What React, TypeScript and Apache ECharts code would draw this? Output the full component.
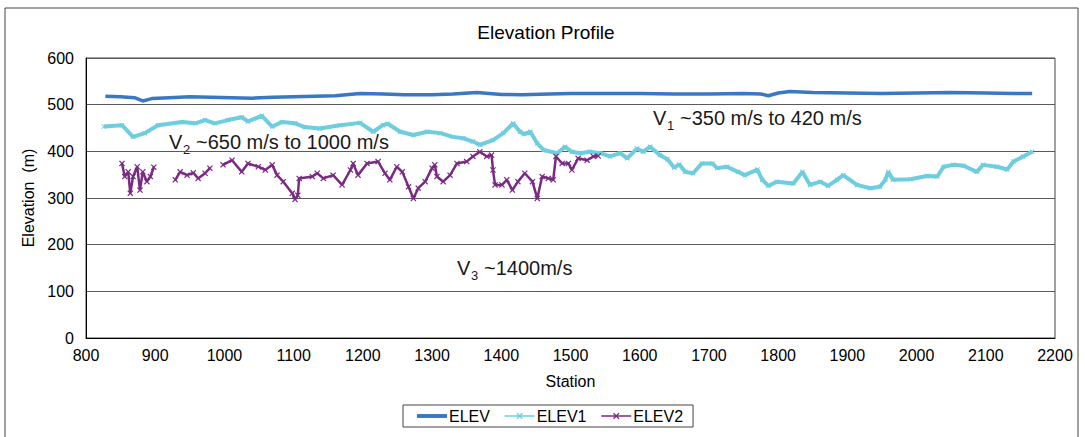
import React, { useEffect, useRef } from "react";
import * as echarts from "echarts";

const elevStations = [828, 850, 870, 882, 895, 920, 950, 980, 1010, 1040, 1070, 1100, 1130, 1160, 1196, 1230, 1260, 1300, 1330, 1365, 1400, 1430, 1470, 1500, 1550, 1600, 1650, 1700, 1750, 1775, 1786, 1800, 1817, 1850, 1900, 1950, 2000, 2050, 2100, 2140, 2167];
const elevValues = [518, 517, 515, 508, 513, 515, 517, 516, 515, 514, 516, 517, 518, 519, 524, 523, 521, 521, 523, 526, 522, 521, 523, 524, 524, 524, 523, 523, 524, 523, 519, 525, 528, 526, 525, 524, 525, 526, 525, 524, 524];

const elev1Stations = [826, 852, 868, 885, 904, 939, 958, 972, 986, 1005, 1025, 1034, 1054, 1069, 1083, 1102, 1116, 1138, 1167, 1196, 1215, 1229, 1236, 1254, 1273, 1293, 1312, 1330, 1345, 1359, 1369, 1388, 1403, 1417, 1427, 1433, 1442, 1452, 1461, 1481, 1492, 1502, 1514, 1528, 1543, 1557, 1572, 1582, 1596, 1605, 1615, 1629, 1640, 1650, 1657, 1666, 1677, 1690, 1705, 1712, 1726, 1742, 1752, 1770, 1777, 1786, 1798, 1822, 1835, 1846, 1861, 1872, 1885, 1894, 1914, 1933, 1947, 1955, 1959, 1966, 1991, 2015, 2030, 2039, 2053, 2068, 2087, 2096, 2116, 2131, 2140, 2154, 2167];
const elev1Values = [453, 456, 431, 439, 456, 463, 460, 467, 460, 467, 473, 464, 476, 453, 463, 460, 452, 449, 456, 461, 442, 456, 459, 442, 435, 442, 439, 431, 428, 421, 414, 424, 439, 460, 442, 437, 442, 417, 403, 396, 410, 399, 396, 399, 396, 389, 396, 385, 406, 399, 410, 392, 383, 365, 372, 356, 353, 374, 374, 364, 367, 356, 349, 361, 339, 326, 335, 331, 356, 328, 335, 326, 339, 349, 328, 321, 324, 339, 356, 339, 340, 347, 346, 367, 371, 369, 356, 371, 367, 361, 378, 389, 399];

const elev2Stations = [852, 856, 861, 864, 868, 874, 878, 882, 888, 893, 898, 910, 929, 936, 946, 955, 962, 972, 979, 988, 998, 1011, 1025, 1034, 1049, 1059, 1069, 1076, 1085, 1098, 1102, 1106, 1108, 1127, 1134, 1143, 1157, 1170, 1182, 1186, 1193, 1206, 1222, 1232, 1239, 1249, 1257, 1266, 1273, 1280, 1290, 1300, 1304, 1307, 1316, 1326, 1336, 1350, 1359, 1369, 1379, 1386, 1388, 1391, 1401, 1408, 1416, 1424, 1434, 1445, 1452, 1459, 1468, 1475, 1479, 1488, 1497, 1502, 1511, 1524, 1533, 1540];
const elev2Values: (number | null)[] = [374, 346, 356, 310, 346, 367, 317, 356, 335, 346, 366, null, 339, 356, 349, 354, 342, 353, 364, null, 371, 381, 356, 374, 367, 360, 371, 349, 335, 310, 297, 306, 342, 346, 353, 342, 349, 328, 360, 374, 349, 374, 378, 353, 339, 367, 356, 324, 299, 321, 335, 364, 371, 346, 335, 349, 374, 378, 389, 399, 389, 392, 360, 328, 328, 339, 317, 335, 353, 335, 299, 346, 342, 339, 389, 374, 374, 360, 385, 381, 389, 390];

const yTicks = { min: 0, max: 600, interval: 100 };
const xTicks = { min: 800, max: 2200, interval: 100 };

const FONT = "'Liberation Sans', Arial, sans-serif";
const XMARK = "path://M0,0L2,2L4,0L4.8,0.8L2.8,2.8L4.8,4.8L4,5.6L2,3.6L0,5.6L-0.8,4.8L1.2,2.8L-0.8,0.8Z";
const BAR_ICON = "path://M0,0H10V1.3H0Z";

function pairs(st: number[], vals: (number | null)[]) {
  return st.map((s, i) => [s, vals[i] === null ? "-" : vals[i]]);
}

export default function App() {
  const ref = useRef<HTMLDivElement>(null);
  useEffect(() => {
    document.body.style.margin = "0";
    const chart = echarts.init(ref.current!, null, { renderer: "svg" });
    const annot = (x: number, y: number, sub: string, rest: string) => [
      { type: "text", left: x, top: y - 12, style: { text: "V", fontSize: 20, fontFamily: FONT, fill: "#1a1a1a" } },
      { type: "text", left: x + 14, top: y - 1, style: { text: sub, fontSize: 13, fontFamily: FONT, fill: "#1a1a1a" } },
      { type: "text", left: x + 27, top: y - 12, style: { text: rest, fontSize: 20, fontFamily: FONT, fill: "#1a1a1a" } },
    ];
    chart.setOption({
      animation: false,
      backgroundColor: "#fff",
      title: {
        text: "Elevation Profile",
        left: 541,
        top: 18,
        textAlign: "center",
        textStyle: { fontSize: 19, fontWeight: "normal", fontFamily: FONT, color: "#000" },
      },
      grid: { left: 86, top: 58, right: 30, bottom: 99, show: true, borderColor: "#444", borderWidth: 1 },
      xAxis: {
        type: "value",
        ...xTicks,
        name: "Station",
        nameLocation: "middle",
        nameGap: 35,
        nameTextStyle: { fontSize: 16, fontFamily: FONT, color: "#000" },
        axisLine: { lineStyle: { color: "#000", width: 1 } },
        axisTick: { show: false },
        splitLine: { show: false },
        axisLabel: { fontSize: 16, fontFamily: FONT, color: "#000", margin: 9, formatter: (v: number) => String(v) },
      },
      yAxis: {
        type: "value",
        ...yTicks,
        name: "Elevation  (m)",
        nameLocation: "middle",
        nameGap: 46,
        nameTextStyle: { fontSize: 16, fontFamily: FONT, color: "#000" },
        axisLine: { show: true, lineStyle: { color: "#000", width: 1 } },
        axisTick: { show: false },
        splitLine: { lineStyle: { color: "#5a5a5a", width: 1 } },
        axisLabel: { fontSize: 16, fontFamily: FONT, color: "#000", margin: 12 },
      },
      legend: {
        left: 403,
        top: 405,
        borderColor: "#444",
        borderWidth: 1,
        padding: [3, 10, 3, 14],
        itemGap: 14,
        itemWidth: 30,
        itemHeight: 8,
        lineStyle: { width: 1.5 },
        textStyle: { fontSize: 16, fontFamily: FONT, color: "#000", padding: [0, 0, 0, -3] },
        data: [
          { name: "ELEV", icon: BAR_ICON, itemStyle: { color: "#3B78C3" } },
          "ELEV1",
          "ELEV2",
        ],
      },
      graphic: [
        { type: "rect", shape: { x: 5, y: 8, width: 1073, height: 445 }, style: { fill: "none", stroke: "#444", lineWidth: 1 }, silent: true },
        ...annot(653, 120, "1", "~350 m/s to 420 m/s"),
        ...annot(169, 144, "2", "~650 m/s to 1000 m/s"),
        ...annot(457, 270, "3", "~1400m/s"),
      ],
      series: [
        {
          name: "ELEV",
          type: "line",
          data: pairs(elevStations, elevValues),
          symbol: "none",
          color: "#3B78C3",
          lineStyle: { width: 3.5, color: "#3B78C3" },
          z: 3,
        },
        {
          name: "ELEV1",
          type: "line",
          data: pairs(elev1Stations, elev1Values),
          symbol: XMARK,
          symbolSize: 5,
          color: "#6ECDDE",
          itemStyle: { color: "#6ECDDE" },
          lineStyle: { width: 4, color: "#6ECDDE" },
          z: 2,
        },
        {
          name: "ELEV2",
          type: "line",
          data: pairs(elev2Stations, elev2Values),
          connectNulls: false,
          symbol: XMARK,
          symbolSize: 6,
          color: "#7B2A84",
          itemStyle: { color: "#7B2A84" },
          lineStyle: { width: 2.5, color: "#7B2A84" },
          z: 4,
        },
      ],
    });
    return () => chart.dispose();
  }, []);
  return <div ref={ref} style={{ width: 1085, height: 437 }} />;
}
